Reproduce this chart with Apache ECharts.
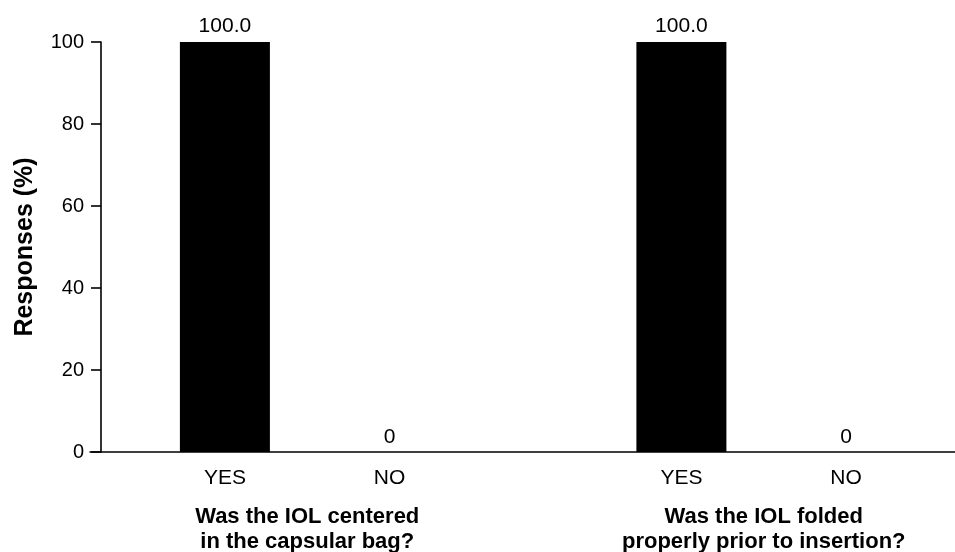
<!DOCTYPE html>
<html><head><meta charset="utf-8">
<script src="https://cdn.jsdelivr.net/npm/echarts@6/dist/echarts.min.js"></script>
<style>html,body{margin:0;padding:0;background:#fff}#c{width:955px;height:552px}</style>
</head><body><div id="c"></div>
<script>
const questions = ['Was the IOL centered\nin the capsular bag?', 'Was the IOL folded\nproperly prior to insertion?'];
const answers = ['YES', 'NO'];
const yesValues = [100, 100];
const noValues = [0, 0];
const yTicks = [0, 20, 40, 60, 80, 100];
const yTitle = 'Responses (%)';

const FONT = 'Liberation Sans, Arial, sans-serif';
const fmt = p => p.value > 0 ? p.value.toFixed(1) : String(p.value);

const chart = echarts.init(document.getElementById('c'));
const valueLabel = { show: true, position: 'top', distance: 5, color: '#000', fontSize: 21, fontFamily: FONT, formatter: fmt };
const nameLabel = name => ({ show: true, position: 'bottom', distance: 16, color: '#000', fontSize: 21, fontFamily: FONT, formatter: () => name });

chart.setOption({
  animation: false,
  backgroundColor: '#fff',
  grid: [
    { left: 79, top: 42, bottom: 100, width: 913, outerBoundsMode: 'none', containLabel: false },
    { left: 90, top: 42, bottom: 100, right: 0, outerBoundsMode: 'none', containLabel: false }
  ],
  xAxis: [{
    type: 'category', data: questions, gridIndex: 0,
    axisLine: { show: false },
    axisTick: { show: false },
    axisLabel: { margin: 52, color: '#000', fontSize: 22, fontWeight: 'bold', fontFamily: FONT, lineHeight: 25 }
  }, {
    type: 'category', data: questions, gridIndex: 0, show: false
  }, {
    type: 'category', data: questions, gridIndex: 1,
    axisLine: { show: true, lineStyle: { color: '#000', width: 1.6 } },
    axisTick: { show: false }, axisLabel: { show: false }
  }],
  yAxis: [{
    type: 'value', gridIndex: 0, min: yTicks[0], max: yTicks[yTicks.length - 1], interval: 20, offset: -22,
    axisLine: { show: true, lineStyle: { color: '#000', width: 1.6 } },
    axisTick: { show: true, length: 10, lineStyle: { color: '#000', width: 1.6 } },
    splitLine: { show: false },
    axisLabel: { margin: 17, color: '#000', fontSize: 20, fontFamily: FONT },
    name: yTitle, nameLocation: 'middle', nameGap: 63, nameRotate: 90,
    nameTextStyle: { color: '#000', fontSize: 25, fontWeight: 'bold', fontFamily: FONT }
  }, {
    type: 'value', gridIndex: 1, min: yTicks[0], max: yTicks[yTicks.length - 1], show: false
  }],
  series: [
    { type: 'bar', name: answers[0], data: yesValues, barWidth: 90, barGap: '83%', itemStyle: { color: '#000' }, label: valueLabel },
    { type: 'bar', name: answers[1], data: noValues, barWidth: 90, barGap: '83%', itemStyle: { color: '#000' }, label: { ...valueLabel, distance: 4 } },
    { type: 'bar', name: answers[0] + '-lbl', xAxisIndex: 1, data: yesValues.map(() => 0), barWidth: 90, barGap: '83%', itemStyle: { color: 'transparent' }, label: nameLabel(answers[0]), silent: true },
    { type: 'bar', name: answers[1] + '-lbl', xAxisIndex: 1, data: noValues.map(() => 0), barWidth: 90, barGap: '83%', itemStyle: { color: 'transparent' }, label: nameLabel(answers[1]), silent: true }
  ]
});
</script></body></html>
